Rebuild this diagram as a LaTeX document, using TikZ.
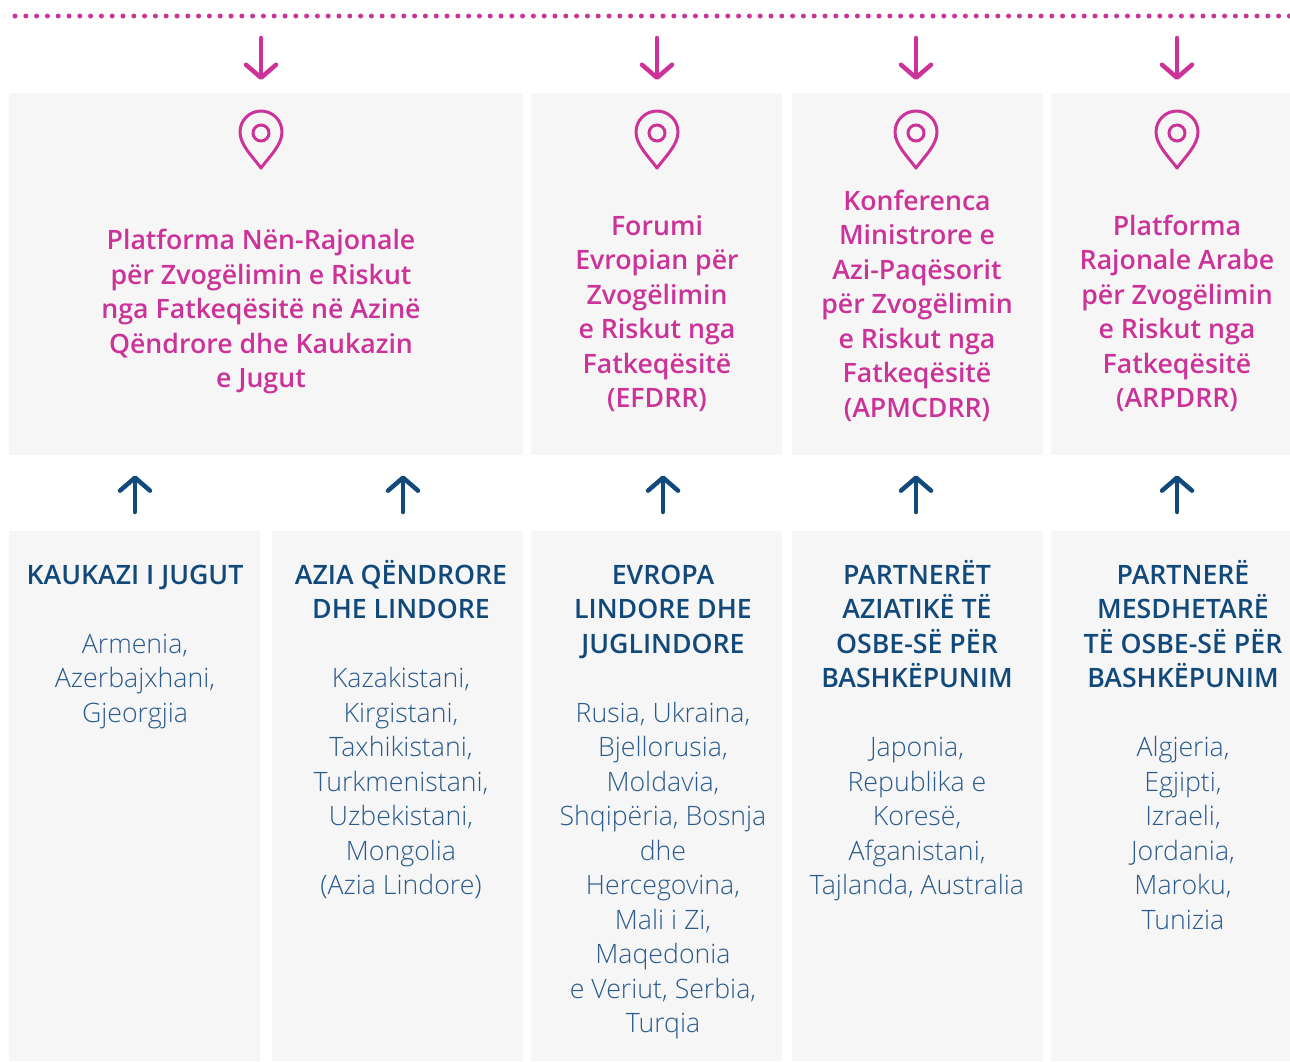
\documentclass[tikz,border=0pt]{standalone}
\usepackage{fontspec}
\setmainfont{Open Sans}[BoldFont={Open Sans Semibold}]
\newfontfamily\lightfont{Open Sans Light}
\usetikzlibrary{arrows.meta}
\definecolor{rosa}{HTML}{CC3399}
\definecolor{navy}{HTML}{12497B}
\definecolor{listblue}{HTML}{2B5B8D}
\definecolor{panelgray}{HTML}{F6F6F6}
\newcommand{\capstrut}{\rule{0pt}{26pt}}
\tikzset{
  pin/.pic={
    \draw[rosa, line width=3pt, line join=round] (0,36) .. controls (-8,25) and (-21,13) .. (-21,0)
      arc[start angle=180, end angle=360, radius=21] .. controls (21,13) and (8,25) .. (0,36) -- cycle;
    \draw[rosa, line width=3pt] (0,1) circle[radius=8];
  }
}

\begin{document}
\begin{tikzpicture}[x=1pt, y=-1pt,
  panel/.style={fill=panelgray, inner sep=0pt, anchor=north west},
  forum/.style={text=rosa, font=\bfseries\fontsize{26.7}{34.5}\selectfont, align=center, inner sep=0pt},
  region/.style={text=navy, font=\bfseries\fontsize{26.7}{34.5}\selectfont, align=center, inner sep=0pt, anchor=north},
  members/.style={text=listblue, font=\lightfont\fontsize{26.7}{34.5}\selectfont, align=center, inner sep=0pt, anchor=north},
  downarr/.style={rosa, line width=4.5pt, line cap=round, -{Straight Barb[round, length=13pt, width=30pt]}},
  uparr/.style={navy, line width=4.5pt, line cap=round, -{Straight Barb[round, length=13pt, width=30pt]}}]
\useasboundingbox (0,0) rectangle (1290,1061);

% dotted rail
\draw[rosa, line width=5pt, line cap=round, dash pattern=on 0pt off 10.8pt] (15,16) -- (1300,16);

% forums
\node[panel, minimum width=514pt, minimum height=362pt] (t1) at (9,93) {};
\node[panel, minimum width=251pt, minimum height=362pt] (t2) at (531,93) {};
\node[panel, minimum width=251pt, minimum height=362pt] (t3) at (792,93) {};
\node[panel, minimum width=239pt, minimum height=362pt] (t4) at (1051,93) {};

\foreach \x in {261,657,916,1177}
  \pic at (\x,132) {pin};

\node[forum] (f1) at (261,309) {\capstrut Platforma Nën-Rajonale\\për Zvogëlimin e Riskut\\nga Fatkeqësitë në Azinë\\Qëndrore dhe Kaukazin\\e Jugut};
\node[forum] (f2) at (657,310.5) {\capstrut Forumi\\Evropian për\\Zvogëlimin\\e Riskut nga\\Fatkeqësitë\\(EFDRR)};
\node[forum] (f3) at (917,303) {\capstrut Konferenca\\Ministrore e\\Azi-Paqësorit\\për Zvogëlimin\\e Riskut nga\\Fatkeqësitë\\(APMCDRR)};
\node[forum] (f4) at (1177,310.5) {\capstrut Platforma\\Rajonale Arabe\\për Zvogëlimin\\e Riskut nga\\Fatkeqësitë\\(ARPDRR)};

\foreach \x/\t in {261/t1,657/t2,916/t3,1177/t4}
  \draw[downarr] (\x,38 |- \t.north) ++(0,-55) coordinate (d) -- (\x,0 |- \t.north) [shorten >=13pt];

% regions
\node[panel, minimum width=251pt, minimum height=530pt] (b1) at (9,531) {};
\node[panel, minimum width=251pt, minimum height=530pt] (b2) at (272,531) {};
\node[panel, minimum width=251pt, minimum height=530pt] (b3) at (531,531) {};
\node[panel, minimum width=251pt, minimum height=530pt] (b4) at (792,531) {};
\node[panel, minimum width=239pt, minimum height=530pt] (b5) at (1051,531) {};

\node[region] (r1) at (135,558) {\capstrut KAUKAZI I JUGUT};
\node[region] (r2) at (401,558) {\capstrut AZIA QËNDRORE\\DHE LINDORE};
\node[region] (r3) at (663,558) {\capstrut EVROPA\\LINDORE DHE\\JUGLINDORE};
\node[region] (r4) at (917,558) {\capstrut PARTNERËT\\AZIATIKË TË\\OSBE-SË PËR\\BASHKËPUNIM};
\node[region] (r5) at (1183,558) {\capstrut PARTNERË\\MESDHETARË\\TË OSBE-SË PËR\\BASHKËPUNIM};

\node[members] (m1) at (135,627) {\capstrut Armenia,\\Azerbajxhani,\\Gjeorgjia};
\node[members] (m2) at (401,661.5) {\capstrut Kazakistani,\\Kirgistani,\\Taxhikistani,\\Turkmenistani,\\Uzbekistani,\\Mongolia\\(Azia Lindore)};
\node[members] (m3) at (663,696) {\capstrut Rusia, Ukraina,\\Bjellorusia,\\Moldavia,\\Shqipëria, Bosnja\\dhe\\Hercegovina,\\Mali i Zi,\\Maqedonia\\e Veriut, Serbia,\\Turqia};
\node[members] (m4) at (917,730.5) {\capstrut Japonia,\\Republika e\\Koresë,\\Afganistani,\\Tajlanda, Australia};
\node[members] (m5) at (1183,730.5) {\capstrut Algjeria,\\Egjipti,\\Izraeli,\\Jordania,\\Maroku,\\Tunizia};

\foreach \x/\b/\t in {135/b1/t1,403/b2/t1,663/b3/t2,916/b4/t3,1177/b5/t4}
  \draw[uparr] (\x,0 |- \b.north) -- (\x,0 |- \t.south) [shorten <=19pt, shorten >=20pt];
\end{tikzpicture}
\end{document}
